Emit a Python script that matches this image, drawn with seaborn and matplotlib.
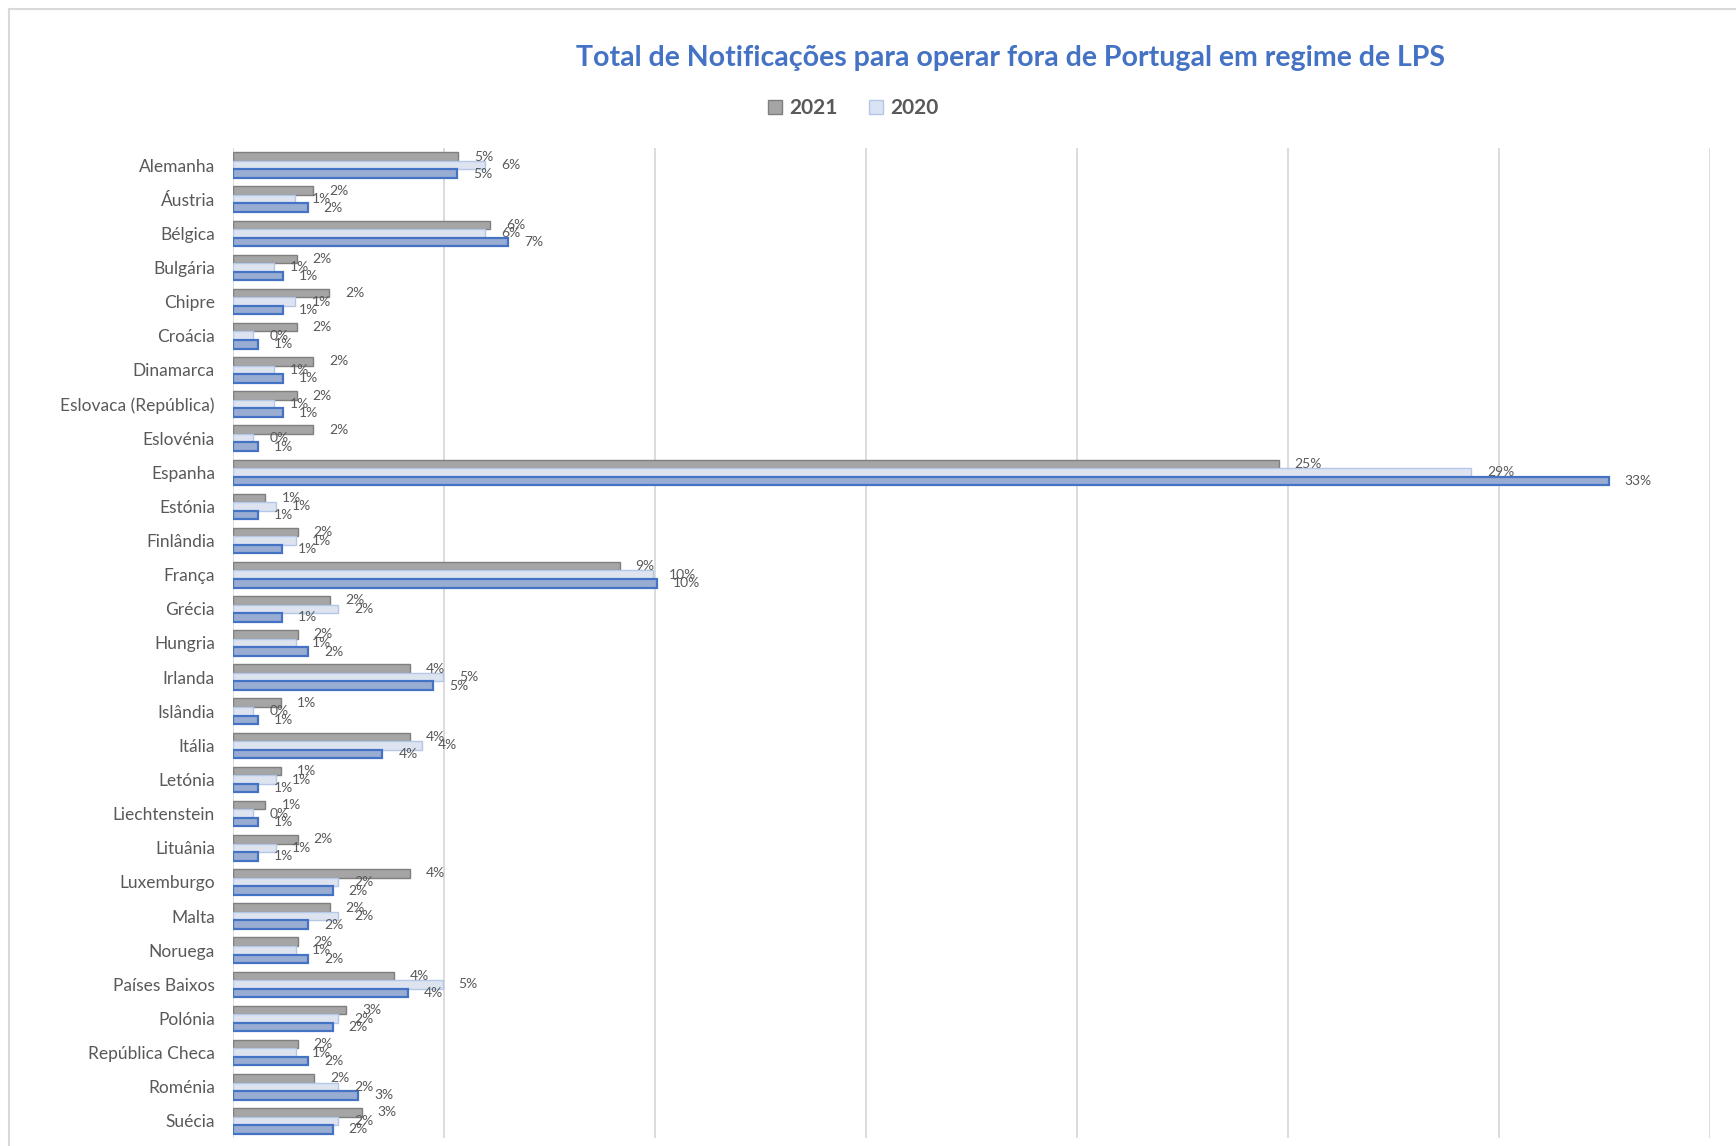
import matplotlib
matplotlib.use("Agg")
import matplotlib.pyplot as plt
import seaborn as sns
import pandas as pd
import math
from matplotlib.patches import Patch
from matplotlib.lines import Line2D

countries = ["Alemanha", "Áustria", "Bélgica", "Bulgária", "Chipre", "Croácia",
             "Dinamarca", "Eslovaca (República)", "Eslovénia", "Espanha", "Estónia",
             "Finlândia", "França", "Grécia", "Hungria", "Irlanda", "Islândia",
             "Itália", "Letónia", "Liechtenstein", "Lituânia", "Luxemburgo", "Malta",
             "Noruega", "Países Baixos", "Polónia", "República Checa", "Roménia", "Suécia"]

v2021 = [5.33, 1.90, 6.10, 1.51, 2.28, 1.51, 1.90, 1.51, 1.90, 24.78, 0.77,
         1.53, 9.16, 2.29, 1.53, 4.19, 1.14, 4.19, 1.14, 0.77, 1.53, 4.19, 2.29,
         1.53, 3.82, 2.68, 1.53, 1.92, 3.05]
v2020 = [5.97, 1.48, 5.97, 0.98, 1.48, 0.48, 0.98, 0.98, 0.48, 29.34, 1.01,
         1.49, 9.95, 2.49, 1.49, 4.98, 0.48, 4.48, 1.01, 0.48, 1.01, 2.49, 2.49,
         1.49, 4.97, 2.49, 1.49, 2.49, 2.49]
v_blue = [5.31, 1.77, 6.52, 1.18, 1.18, 0.59, 1.18, 1.18, 0.59, 32.60, 0.59,
          1.17, 10.05, 1.17, 1.78, 4.74, 0.59, 3.54, 0.59, 0.59, 0.59, 2.36, 1.78,
          1.78, 4.14, 2.36, 1.78, 2.96, 2.36]

series = ["2021", "2020", "série 3"]
legend_series = ["2021", "2020"]
title = "Total de Notificações para operar fora de Portugal em regime de LPS"

fills = {"2021": "#A5A5A5", "2020": "#DAE3F3", "série 3": "#8FAADC"}
edges = {"2021": "#7F7F7F", "2020": "#B4C7E7", "série 3": "#4472C4"}
lws = {"2021": 1.0, "2020": 1.0, "série 3": 1.6}

df = pd.DataFrame({
    "país": countries * 3,
    "série": [series[0]] * len(countries) + [series[1]] * len(countries) + [series[2]] * len(countries),
    "valor": v2021 + v2020 + v_blue,
})

sns.set_theme(style="white")
plt.rcParams["font.family"] = ["Lato", "DejaVu Sans"]

W, H = 1736, 1146
fig = plt.figure(figsize=(W / 100, H / 100), dpi=100)
ax = fig.add_axes([233 / W, 1 - 1138 / H, (1710 - 233) / W, (1138 - 148) / H])

sns.barplot(data=df, y="país", x="valor", hue="série", hue_order=series,
            order=countries, orient="h", palette=fills, width=0.75, gap=0,
            errorbar=None, legend=False, ax=ax)

for cont, s in zip(ax.containers, series):
    for p in cont:
        p.set_edgecolor(edges[s])
        p.set_linewidth(lws[s])
    vals = [p.get_width() for p in cont]
    labs = [f"{int(math.floor(v + 0.5))}%" for v in vals]
    ax.bar_label(cont, labels=labs, padding=11.5, fontsize=10, color="#595959")

ax.set_xlim(0, 35)
ax.set_ylim(len(countries) - 0.5, -0.5)
ax.set_xticks(range(0, 36, 5))
ax.set_xticklabels([])
ax.set_xlabel("")
ax.set_ylabel("")
ax.grid(axis="x", color="#D9D9D9", linewidth=1.3)
ax.grid(axis="y", visible=False)
ax.set_axisbelow(True)
for sp in ax.spines.values():
    sp.set_visible(False)
ax.tick_params(axis="y", length=0, pad=13, labelsize=12.5, labelcolor="#595959")
ax.tick_params(axis="x", length=0)

fig.text(1011 / W, 1 - 66 / H, title, ha="center", va="baseline",
         fontsize=20.5, fontweight="bold", color="#4472C4")

handles = [Patch(facecolor=fills[s], edgecolor=edges[s], linewidth=1.0, label=s)
           for s in legend_series]
leg = fig.legend(handles=handles, loc="center", bbox_to_anchor=(853 / W, 1 - 108.5 / H),
                 ncol=2, frameon=False, handlelength=0.67, handleheight=0.67,
                 handletextpad=0.35, columnspacing=1.5,
                 prop={"size": 15, "weight": "bold"})
for t in leg.get_texts():
    t.set_color("#595959")

fig.add_artist(Line2D([9 / W, 9 / W], [0, 1 - 9 / H], transform=fig.transFigure,
                      color="#D9D9D9", linewidth=1.5))
fig.add_artist(Line2D([9 / W, 1], [1 - 9 / H, 1 - 9 / H], transform=fig.transFigure,
                      color="#D9D9D9", linewidth=1.5))

fig.savefig("out.png", dpi=100)
